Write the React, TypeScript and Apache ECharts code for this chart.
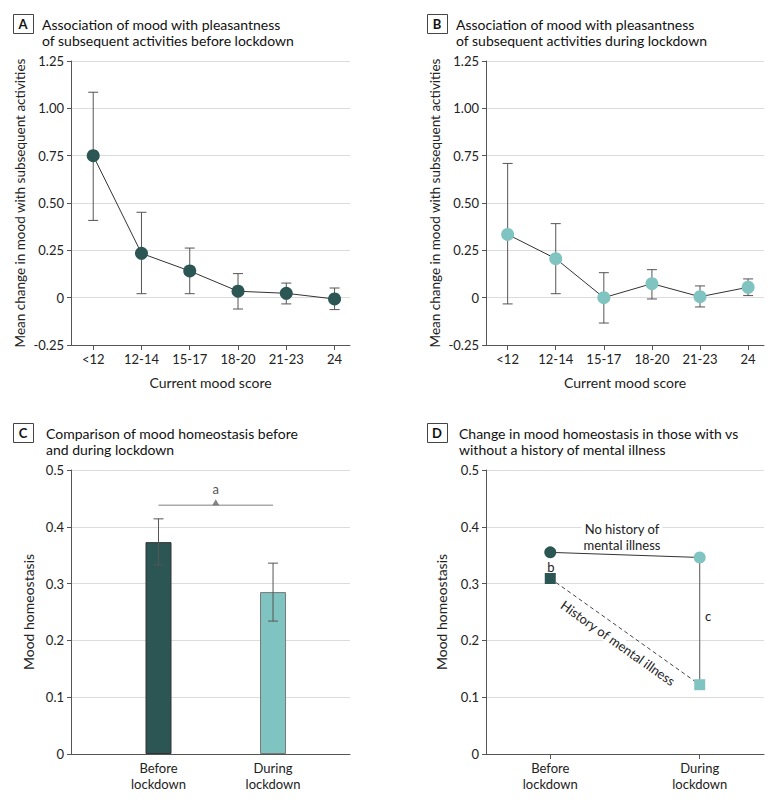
import React, { useEffect, useRef } from "react";
import * as echarts from "echarts";

// ---- Data ----
const moodCategories = ["<12", "12-14", "15-17", "18-20", "21-23", "24"];
const beforeMean = [0.75, 0.234, 0.141, 0.034, 0.023, -0.007];
const beforeLow = [0.408, 0.021, 0.021, -0.06, -0.033, -0.063];
const beforeHigh = [1.085, 0.451, 0.262, 0.127, 0.077, 0.051];
const duringMean = [0.334, 0.206, 0.0, 0.074, 0.005, 0.055];
const duringLow = [-0.033, 0.021, -0.134, -0.007, -0.049, 0.011];
const duringHigh = [0.709, 0.391, 0.132, 0.148, 0.062, 0.099];

const periodCategories = ["Before\nlockdown", "During\nlockdown"];
const homeostasisMean = [0.373, 0.285];
const homeostasisLow = [0.333, 0.234];
const homeostasisHigh = [0.414, 0.336];
const significanceLevel = 0.438;

const noHistory = [0.355, 0.346];
const withHistory = [0.309, 0.122];

// ---- Styles ----
const DARK = "#2b5654";
const LIGHT = "#80c4c2";
const FONT = "Lato";
const TXT = "#222";
const AXIS = "#555";
const GRIDC = "#dcdcdc";

const idx6 = moodCategories.map((_, i) => i);
const idx2 = periodCategories.map((_, i) => i);

function yFmtAB(v: number) {
  if (Math.abs(v) < 1e-9) return "0";
  return v.toFixed(2);
}
function yFmtCD(v: number) {
  if (Math.abs(v) < 1e-9) return "0";
  return v.toFixed(1);
}

function xAxisCfg(gridIndex: number, min: number, max: number, vals: number[], labels: string[], showTicks: boolean, name?: string) {
  return {
    type: "value",
    gridIndex,
    min,
    max,
    name: name || "",
    nameLocation: "middle",
    nameGap: 30,
    nameTextStyle: { fontFamily: FONT, fontSize: 14, color: TXT },
    splitLine: { show: false },
    axisLine: { show: true, onZero: false, lineStyle: { color: AXIS, width: 1 } },
    axisTick: { show: showTicks, customValues: vals, length: 5, lineStyle: { color: AXIS } },
    axisLabel: {
      customValues: vals,
      formatter: (v: number) => labels[Math.round(v)] ?? "",
      fontFamily: FONT,
      fontSize: 13,
      color: TXT,
      margin: 6,
      lineHeight: 16,
    },
  };
}

function yAxisCfg(gridIndex: number, min: number, max: number, interval: number, fmt: (v: number) => string, name: string, nameGap: number, nameSize: number) {
  return {
    type: "value",
    gridIndex,
    min,
    max,
    interval,
    name,
    nameLocation: "middle",
    nameGap,
    nameTextStyle: { fontFamily: FONT, fontSize: nameSize, color: TXT },
    axisLine: { show: true, onZero: false, lineStyle: { color: AXIS, width: 1 } },
    axisTick: { show: true, length: 4, lineStyle: { color: AXIS } },
    splitLine: { show: true, lineStyle: { color: GRIDC, width: 1 } },
    axisLabel: { formatter: fmt, fontFamily: FONT, fontSize: 13, color: TXT, margin: 7 },
  };
}

function errorSeries(axisIndex: number, xs: number[], low: number[], high: number[], capHalf: number, z: number) {
  return {
    type: "custom",
    xAxisIndex: axisIndex,
    yAxisIndex: axisIndex,
    z,
    silent: true,
    encode: { x: 0, y: [1, 2] },
    data: xs.map((x, i) => [x, low[i], high[i]]),
    renderItem: (_p: any, api: any) => {
      const x = api.value(0);
      const lo = api.coord([x, api.value(1)]);
      const hi = api.coord([x, api.value(2)]);
      const style = { stroke: "#555", lineWidth: 1, fill: "none" };
      return {
        type: "group",
        children: [
          { type: "line", shape: { x1: lo[0], y1: lo[1], x2: hi[0], y2: hi[1] }, style },
          { type: "line", shape: { x1: lo[0] - capHalf, y1: lo[1], x2: lo[0] + capHalf, y2: lo[1] }, style },
          { type: "line", shape: { x1: hi[0] - capHalf, y1: hi[1], x2: hi[0] + capHalf, y2: hi[1] }, style },
        ],
      };
    },
  };
}

function titleGraphic(letter: string, bx: number, by: number, tx: number, lines: string[]) {
  return [
    {
      type: "rect",
      left: bx,
      top: by,
      shape: { width: 20, height: 19 },
      style: { fill: "#fff", stroke: "#444", lineWidth: 1 },
    },
    {
      type: "text",
      x: bx + 10,
      y: by + 10,
      style: { text: letter, fontFamily: FONT, fontSize: 13, fontWeight: "bold", fill: "#111", align: "center", verticalAlign: "middle" },
    },
    {
      type: "text",
      x: tx,
      y: by + 2,
      style: { text: lines.join("\n"), fontFamily: FONT, fontSize: 14, lineHeight: 16, fill: "#111", align: "left", verticalAlign: "top" },
    },
  ];
}

export default function App() {
  const ref = useRef<HTMLDivElement>(null);
  useEffect(() => {
    if (!ref.current) return;
    const chart = echarts.init(ref.current, undefined, { renderer: "svg" });
    const option: any = {
      animation: false,
      backgroundColor: "#fff",
      grid: [
        { left: 71, top: 61, width: 279, height: 284 },
        { left: 486, top: 61, width: 278, height: 284 },
        { left: 71, top: 470, width: 279, height: 284 },
        { left: 486, top: 470, width: 278, height: 284 },
      ],
      xAxis: [
        xAxisCfg(0, -0.46, 5.32, idx6, moodCategories, true, "Current mood score"),
        xAxisCfg(1, -0.45, 5.33, idx6, moodCategories, true, "Current mood score"),
        xAxisCfg(2, -0.764, 1.672, idx2, periodCategories, false),
        xAxisCfg(3, -0.43, 1.43, idx2, periodCategories, true),
      ],
      yAxis: [
        yAxisCfg(0, -0.25, 1.25, 0.25, yFmtAB, "Mean change in mood with subsequent activities", 44, 13.5),
        yAxisCfg(1, -0.25, 1.25, 0.25, yFmtAB, "Mean change in mood with subsequent activities", 44, 13.5),
        yAxisCfg(2, 0, 0.5, 0.1, yFmtCD, "Mood homeostasis", 36, 14),
        yAxisCfg(3, 0, 0.5, 0.1, yFmtCD, "Mood homeostasis", 38, 14),
      ],
      series: [
        // Panel A
        errorSeries(0, idx6, beforeLow, beforeHigh, 5, 2),
        {
          type: "line",
          xAxisIndex: 0,
          yAxisIndex: 0,
          z: 3,
          data: beforeMean.map((v, i) => [i, v]),
          symbol: "circle",
          symbolSize: 13,
          itemStyle: { color: DARK },
          lineStyle: { color: "#333", width: 1 },
        },
        // Panel B
        errorSeries(1, idx6, duringLow, duringHigh, 5, 2),
        {
          type: "line",
          xAxisIndex: 1,
          yAxisIndex: 1,
          z: 3,
          data: duringMean.map((v, i) => [i, v]),
          symbol: "circle",
          symbolSize: 13,
          itemStyle: { color: LIGHT },
          lineStyle: { color: "#333", width: 1 },
        },
        // Panel C
        {
          type: "bar",
          xAxisIndex: 2,
          yAxisIndex: 2,
          barWidth: 26,
          z: 2,
          data: homeostasisMean.map((v, i) => ({
            value: [i, v],
            itemStyle: { color: i === 0 ? DARK : LIGHT, borderColor: i === 0 ? "#333" : "#777", borderWidth: 1 },
          })),
        },
        errorSeries(2, idx2, homeostasisLow, homeostasisHigh, 5, 3),
        {
          type: "line",
          xAxisIndex: 2,
          yAxisIndex: 2,
          z: 3,
          data: [
            [0, significanceLevel],
            [1, significanceLevel],
          ],
          symbol: "none",
          lineStyle: { color: "#aaa", width: 1.5 },
        },
        {
          type: "scatter",
          xAxisIndex: 2,
          yAxisIndex: 2,
          z: 4,
          data: [[0.5, significanceLevel]],
          symbol: "triangle",
          symbolSize: [7, 6],
          symbolOffset: [0, -3],
          itemStyle: { color: "#666" },
          label: {
            show: true,
            position: "top",
            distance: 4,
            formatter: "a",
            fontFamily: FONT,
            fontSize: 13,
            color: TXT,
          },
        },
        // Panel D
        {
          type: "line",
          xAxisIndex: 3,
          yAxisIndex: 3,
          z: 2,
          data: [
            [1, noHistory[1]],
            [1, withHistory[1]],
          ],
          symbol: "none",
          lineStyle: { color: "#555", width: 1 },
        },
        {
          type: "line",
          xAxisIndex: 3,
          yAxisIndex: 3,
          z: 3,
          data: noHistory.map((v, i) => ({ value: [i, v], itemStyle: { color: i === 0 ? DARK : LIGHT } })),
          symbol: "circle",
          symbolSize: 12,
          lineStyle: { color: "#333", width: 1 },
        },
        {
          type: "line",
          xAxisIndex: 3,
          yAxisIndex: 3,
          z: 3,
          data: withHistory.map((v, i) => ({ value: [i, v], itemStyle: { color: i === 0 ? DARK : LIGHT } })),
          symbol: "rect",
          symbolSize: 11,
          lineStyle: { color: "#444", width: 1, type: [4, 3] },
        },
      ],
      graphic: [
        ...titleGraphic("A", 13, 14, 42, ["Association of mood with pleasantness", "of subsequent activities before lockdown"]),
        ...titleGraphic("B", 427, 14, 456, ["Association of mood with pleasantness", "of subsequent activities during lockdown"]),
        ...titleGraphic("C", 13, 423, 46, ["Comparison of mood homeostasis before", "and during lockdown"]),
        ...titleGraphic("D", 427, 423, 459, ["Change in mood homeostasis in those with vs", "without a history of mental illness"]),
        {
          type: "text",
          x: 622,
          y: 537,
          z: 10,
          style: {
            text: "No history of\nmental illness",
            fontFamily: FONT,
            fontSize: 13,
            lineHeight: 16,
            fill: TXT,
            align: "center",
            verticalAlign: "middle",
            backgroundColor: "#fff",
            padding: [0, 2],
          },
        },
        {
          type: "text",
          x: 618,
          y: 643,
          z: 10,
          rotation: -0.616,
          style: {
            text: "History of mental illness",
            fontFamily: FONT,
            fontSize: 13,
            fill: TXT,
            align: "center",
            verticalAlign: "middle",
            backgroundColor: "#fff",
            padding: [0, 2],
          },
        },
        {
          type: "text",
          x: 551,
          y: 567,
          z: 10,
          style: { text: "b", fontFamily: FONT, fontSize: 13, fill: TXT, align: "center", verticalAlign: "middle" },
        },
        {
          type: "text",
          x: 708,
          y: 616,
          z: 10,
          style: { text: "c", fontFamily: FONT, fontSize: 13, fill: TXT, align: "center", verticalAlign: "middle" },
        },
      ],
    };
    chart.setOption(option);
    return () => chart.dispose();
  }, []);
  return <div ref={ref} style={{ position: "fixed", left: 0, top: 0, width: 780, height: 802, background: "#fff" }} />;
}
